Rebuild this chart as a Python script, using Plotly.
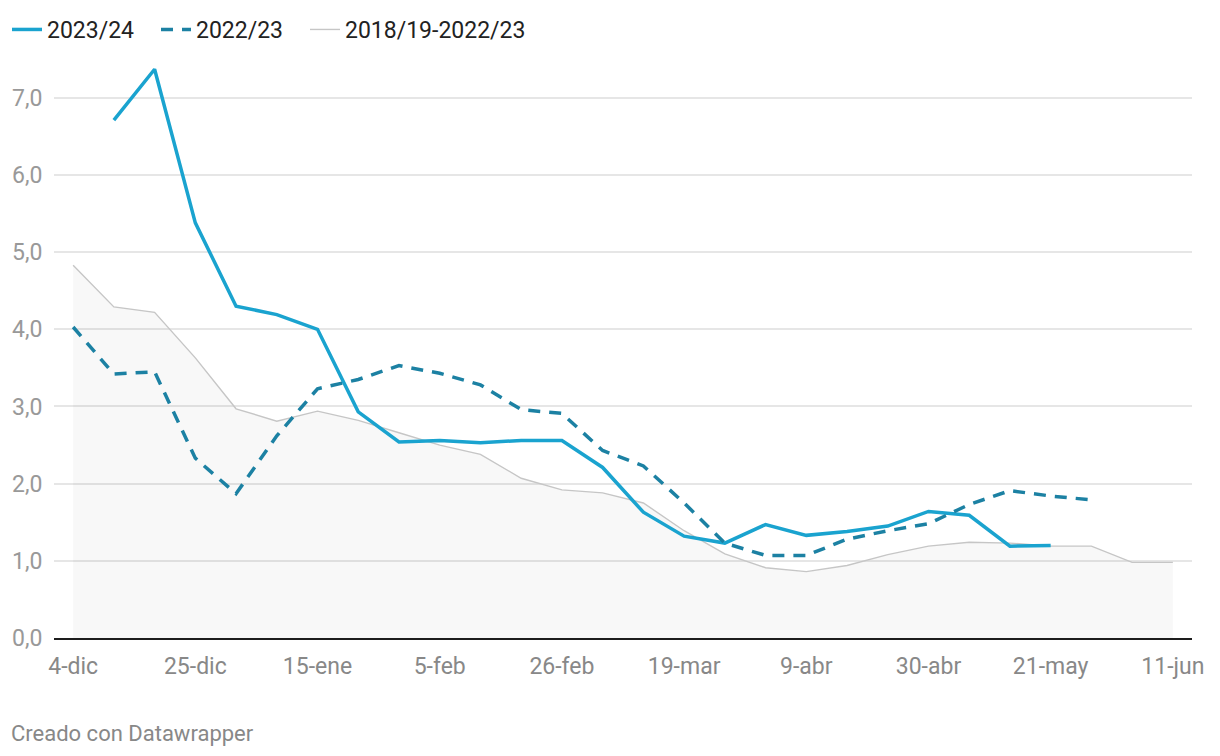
import plotly.graph_objects as go

weeks = list(range(28))  # weekly steps from 4-dic to 11-jun
tick_weeks = [0, 3, 6, 9, 12, 15, 18, 21, 24, 27]
tick_labels = ["4-dic", "25-dic", "15-ene", "5-feb", "26-feb", "19-mar",
               "9-abr", "30-abr", "21-may", "11-jun"]

season_2023_24 = [None, 6.71, 7.37, 5.38, 4.30, 4.19, 4.00, 2.93, 2.54, 2.56,
                  2.53, 2.56, 2.56, 2.21, 1.63, 1.32, 1.23, 1.47, 1.33, 1.38,
                  1.45, 1.64, 1.59, 1.19, 1.20]
season_2022_23 = [4.03, 3.42, 3.45, 2.33, 1.87, 2.62, 3.23, 3.35, 3.53, 3.43,
                  3.28, 2.96, 2.91, 2.43, 2.23, 1.75, 1.23, 1.07, 1.07, 1.28,
                  1.39, 1.48, 1.73, 1.91, 1.84, 1.79]
avg_2018_2023 = [4.83, 4.29, 4.22, 3.63, 2.97, 2.81, 2.94, 2.82, 2.66, 2.50,
                 2.38, 2.07, 1.92, 1.88, 1.75, 1.39, 1.09, 0.91, 0.86, 0.94,
                 1.08, 1.19, 1.24, 1.23, 1.19, 1.19, 0.98, 0.98]

y_ticks = [0, 1, 2, 3, 4, 5, 6, 7]
y_labels = ["0,0", "1,0", "2,0", "3,0", "4,0", "5,0", "6,0", "7,0"]

# page body has an 8px margin; margins below compensate for it
L, R, T, B = 46, 36, 52, 126
W, H = 1220, 756
plot_w = W - L - R
plot_h = H - T - B

fig = go.Figure()
# shaded area under the 5-season reference line
fig.add_trace(go.Scatter(
    x=weeks[:len(avg_2018_2023)], y=avg_2018_2023, mode="lines",
    line=dict(width=0, color="rgba(0,0,0,0)"),
    fill="tozeroy", fillcolor="rgba(0,0,0,0.028)",
    showlegend=False, hoverinfo="skip"))
fig.add_trace(go.Scatter(
    x=weeks[:len(avg_2018_2023)], y=avg_2018_2023, name="2018/19-2022/23",
    mode="lines", line=dict(color="#c6c6c6", width=1.4), legendrank=3))
fig.add_trace(go.Scatter(
    x=weeks[:len(season_2023_24)], y=season_2023_24, name="2023/24",
    mode="lines", line=dict(color="#1aa3cf", width=3.5), legendrank=1,
    legendwidth=104))
fig.add_trace(go.Scatter(
    x=weeks[:len(season_2022_23)], y=season_2022_23, name="2022/23",
    mode="lines", line=dict(color="#1c81a3", width=3.5, dash="12px,9px"),
    legendrank=2, legendwidth=104))

fig.update_layout(
    width=W, height=H,
    margin=dict(l=L, r=R, t=T, b=B, autoexpand=False),
    paper_bgcolor="white", plot_bgcolor="white",
    font=dict(family="Roboto", color="#888888"),
    showlegend=True,
    legend=dict(orientation="h", x=-47 / plot_w, xanchor="left", xref="paper",
                y=1, yref="container", yanchor="top",
                font=dict(size=23, color="#222222"),
                itemwidth=30, tracegroupgap=0, bgcolor="rgba(0,0,0,0)"),
    xaxis=dict(range=[-0.47, 27.47], tickvals=tick_weeks, ticktext=tick_labels,
               showgrid=False, zeroline=False, showline=True,
               linecolor="#1d1d1d", linewidth=2,
               ticks="outside", ticklen=6, tickcolor="rgba(0,0,0,0)",
               tickfont=dict(size=23, color="#888888")),
    yaxis=dict(range=[0, 7.49], tickvals=y_ticks, ticktext=y_labels,
               showgrid=True, gridcolor="#e6e6e6", gridwidth=1.5,
               zeroline=False, ticks="outside", ticklen=6,
               tickcolor="rgba(0,0,0,0)",
               tickfont=dict(size=23, color="#999999")),
)
fig.add_annotation(text="Creado con Datawrapper", xref="paper", yref="paper",
                   x=(1 - L) / plot_w, y=-(725 - (H - B)) / plot_h,
                   xanchor="left", yanchor="middle",
                   showarrow=False, font=dict(size=22, color="#888888"))

fig.write_html("out.html")
